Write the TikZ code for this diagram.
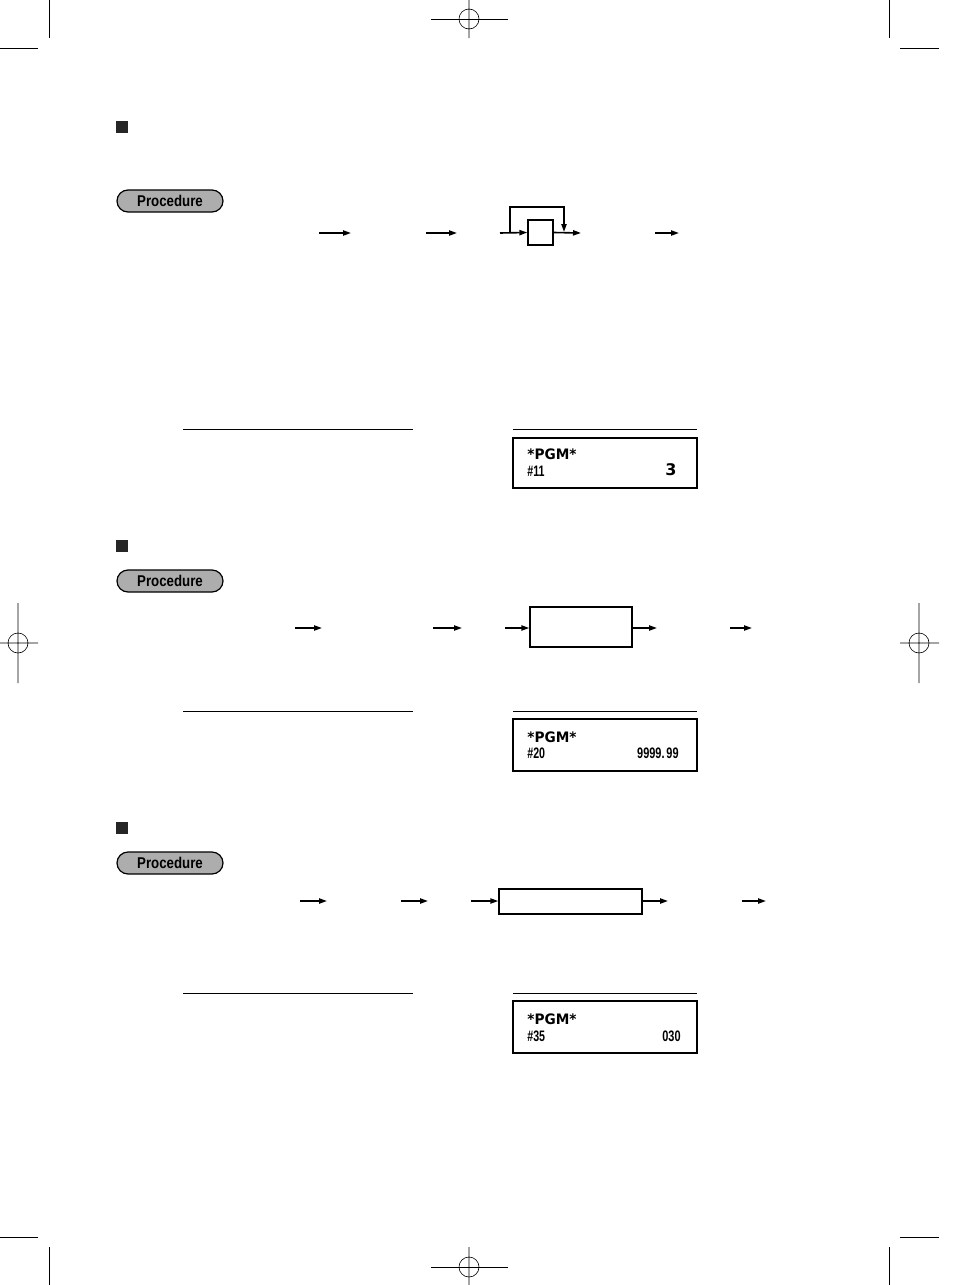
\documentclass[tikz,border=0pt]{standalone}
\usepackage{fontspec}
\setmainfont{Liberation Sans}
\newfontfamily\dispfont{DejaVu Sans}
\usetikzlibrary{arrows.meta}
\begin{document}
\begin{tikzpicture}[x=0.5pt,y=-0.5pt,
  crop/.style={line width=0.45pt},
  reg/.style={line width=0.3pt},
  conn/.style={line width=0.8pt,-{Triangle[length=4pt,width=2.6pt]}},
  keybox/.style={draw,line width=0.7pt,inner sep=0pt},
  sq/.style={fill=black!85,minimum size=6pt,inner sep=0pt},
  pill/.style={draw,line width=0.6pt,fill=black!32,rounded corners=5.5pt,minimum width=53pt,minimum height=11pt,inner sep=0pt,
    font=\fontsize{7.8}{8}\selectfont\bfseries},
  rule/.style={line width=0.5pt},
  disp/.style={draw,line width=0.7pt,minimum width=92pt,inner sep=0pt},
  pgm/.style={anchor=base west,inner sep=0pt,font=\dispfont\fontsize{7.2}{8}\selectfont\bfseries},
  dnum/.style={inner sep=0pt,font=\fontsize{7.6}{8}\selectfont\bfseries},
]
\useasboundingbox[fill=white] (0,0) rectangle (954,1285);

% ---- crop marks ----
\draw[crop] (49,0) -- (49,38) (889,0) -- (889,38) (0,48) -- (38,48) (900,48) -- (939,48);
\draw[crop] (49,1247) -- (49,1285) (889,1247) -- (889,1285) (0,1237) -- (38,1237) (900,1237) -- (939,1237);
% ---- registration marks ----
\draw[crop] (431,19) -- (508,19);
\draw[reg] (469,0) -- (469,38) (469,19) ellipse [x radius=10,y radius=10];
\draw[crop] (431,1267) -- (508,1267);
\draw[reg] (469,1247) -- (469,1285) (469,1267) ellipse [x radius=10,y radius=10];
\draw[reg] (18,603) -- (18,683) (0,643) -- (38,643) (18,643) ellipse [x radius=10,y radius=10];
\draw[reg] (919,603) -- (919,683) (900,643) -- (939,643) (919,643) ellipse [x radius=10,y radius=10];

% ================= Section 1 =================
\node[sq] (sq1) at (122,126.5) {};
\node[pill] (pill1) at (170,201) {\scalebox{0.85}[1]{Procedure}};
\coordinate (s1a) at (319,233); \coordinate (e1a) at (351,233);
\coordinate (s1b) at (426,233); \coordinate (e1b) at (457,233);
\coordinate (s1c) at (500,233);
\node[keybox,minimum width=12.5pt,minimum height=12.5pt] (key1) at (540.5,232.5) {};
\coordinate (e1d) at (581,233);
\coordinate (loopS) at (510,233); \coordinate (loopT) at (564,207); \coordinate (loopE) at (564,232);
\coordinate (s1e) at (655,233); \coordinate (e1e) at (679,233);
\draw[conn] (s1a) -- (e1a);
\draw[conn] (s1b) -- (e1b);
\draw[conn] (s1c) -- (key1.west);
\draw[conn] (key1.east) -- (e1d);
\draw[conn] (loopS) |- (loopT) -- (loopE);
\draw[conn] (s1e) -- (e1e);
\coordinate (r1a) at (183,429); \coordinate (r1b) at (413,429);
\coordinate (r1c) at (513,429); \coordinate (r1d) at (697,429);
\draw[rule] (r1a) -- (r1b) (r1c) -- (r1d);
\node[disp,minimum height=25pt] (disp1) at (605,463) {};
\node[pgm] (pgm1) at (527,459) {\scalebox{0.95}[1]{*PGM*}};
\node[dnum,anchor=base west] (n1) at (527,476) {\scalebox{0.7}[1]{\#11}};
\node[pgm,anchor=base east,font=\dispfont\fontsize{8}{9}\selectfont\bfseries] (v1) at (677,475) {3};

% ================= Section 2 =================
\node[sq] (sq2) at (122,546) {};
\node[pill] (pill2) at (170,581) {\scalebox{0.85}[1]{Procedure}};
\coordinate (s2a) at (295,628); \coordinate (e2a) at (322,628);
\coordinate (s2b) at (433,628); \coordinate (e2b) at (462,628);
\coordinate (s2c) at (505,628);
\node[keybox,minimum width=51pt,minimum height=20pt] (key2) at (581,627) {};
\coordinate (e2d) at (657,628);
\coordinate (s2e) at (730,628); \coordinate (e2e) at (752,628);
\draw[conn] (s2a) -- (e2a);
\draw[conn] (s2b) -- (e2b);
\draw[conn] (s2c) -- (key2.west |- s2c);
\draw[conn] (key2.east |- s2c) -- (e2d);
\draw[conn] (s2e) -- (e2e);
\coordinate (r2a) at (183,711); \coordinate (r2b) at (413,711);
\coordinate (r2c) at (513,711); \coordinate (r2d) at (697,711);
\draw[rule] (r2a) -- (r2b) (r2c) -- (r2d);
\node[disp,minimum height=26pt] (disp2) at (605,745) {};
\node[pgm] (pgm2) at (527,742) {\scalebox{0.95}[1]{*PGM*}};
\node[dnum,anchor=base west] (n2) at (527,758) {\scalebox{0.7}[1]{\#20}};
\node[dnum,anchor=base east] (v2) at (679,758) {\scalebox{0.72}[1]{9999.\,99}};

% ================= Section 3 =================
\node[sq] (sq3) at (122,828) {};
\node[pill] (pill3) at (170,863) {\scalebox{0.85}[1]{Procedure}};
\coordinate (s3a) at (300,901); \coordinate (e3a) at (327,901);
\coordinate (s3b) at (401,901); \coordinate (e3b) at (428,901);
\coordinate (s3c) at (471,901);
\node[keybox,minimum width=71.5pt,minimum height=12.5pt] (key3) at (570.5,901.5) {};
\coordinate (e3d) at (668,901);
\coordinate (s3e) at (742,901); \coordinate (e3e) at (766,901);
\draw[conn] (s3a) -- (e3a);
\draw[conn] (s3b) -- (e3b);
\draw[conn] (s3c) -- (key3.west |- s3c);
\draw[conn] (key3.east |- s3c) -- (e3d);
\draw[conn] (s3e) -- (e3e);
\coordinate (r3a) at (183,993); \coordinate (r3b) at (413,993);
\coordinate (r3c) at (513,993); \coordinate (r3d) at (697,993);
\draw[rule] (r3a) -- (r3b) (r3c) -- (r3d);
\node[disp,minimum height=26pt] (disp3) at (605,1027) {};
\node[pgm] (pgm3) at (527,1024) {\scalebox{0.95}[1]{*PGM*}};
\node[dnum,anchor=base west] (n3) at (527,1041) {\scalebox{0.7}[1]{\#35}};
\node[dnum,anchor=base east] (v3) at (681,1041) {\scalebox{0.72}[1]{030}};
\end{tikzpicture}
\end{document}
